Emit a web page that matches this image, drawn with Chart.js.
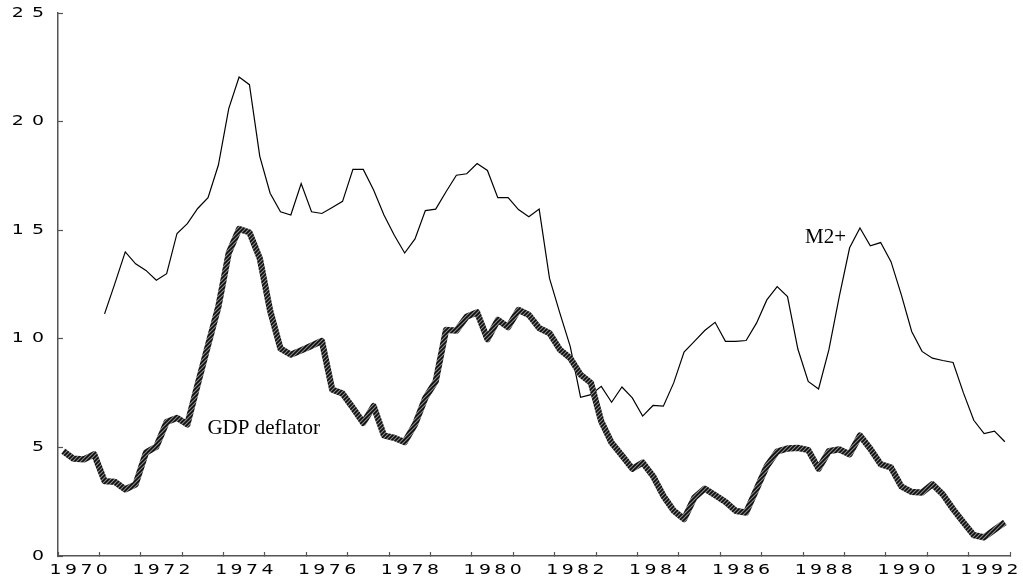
<!DOCTYPE html>
<html>
<head>
<meta charset="utf-8">
<style>
  html, body { margin: 0; padding: 0; background: #ffffff; }
  #wrap { width: 1023px; height: 580px; }
</style>
<script src="https://cdn.jsdelivr.net/npm/chart.js@4.4.1/dist/chart.umd.min.js"></script>
</head>
<body>
<div id="wrap"><canvas id="c" width="1023" height="580"></canvas></div>
<script>
// ---- data (quarterly, 1970Q1 .. 1992Q4) ----
const years = [1970,1971,1972,1973,1974,1975,1976,1977,1978,1979,1980,1981,
               1982,1983,1984,1985,1986,1987,1988,1989,1990,1991,1992];
const quarterNames = ['Q1','Q2','Q3','Q4'];

const gdpDeflator = [
  4.83, 4.48, 4.45, 4.68,   3.45, 3.41, 3.07, 3.30,   4.76, 5.03, 6.17, 6.36,
  6.06, 7.90, 9.70, 11.48,  13.95, 15.06, 14.90, 13.70, 11.30, 9.55, 9.27, 9.47,
  9.68, 9.90, 7.66, 7.48,   6.82, 6.13, 6.90, 5.55,   5.44, 5.24, 6.06, 7.28,
  8.04, 10.41, 10.38, 11.02, 11.22, 9.98, 10.87, 10.54, 11.33, 11.10, 10.49, 10.26,
  9.50, 9.11, 8.35, 7.97,   6.20, 5.21, 4.63, 4.02,   4.30, 3.68, 2.77, 2.08,
  1.70, 2.69, 3.10, 2.80,   2.49, 2.08, 2.00, 3.07,   4.14, 4.81, 4.95, 4.98,
  4.88, 4.02, 4.83, 4.91,   4.68, 5.55, 4.94, 4.22,   4.07, 3.20, 2.95, 2.92,
  3.30, 2.84, 2.16, 1.55,   0.96, 0.86, 1.21, 1.55
];

const m2plus = [
  null, null, null, null,   11.15, 12.55, 14.00, 13.45, 13.15, 12.70, 13.00, 14.85,
  15.30, 16.00, 16.50, 18.00, 20.60, 22.05, 21.70, 18.40, 16.70, 15.85, 15.70, 17.15,
  15.85, 15.77, 16.05, 16.33, 17.80, 17.80, 16.85, 15.70, 14.77, 13.95, 14.60, 15.90,
  15.97, 16.77, 17.53, 17.60, 18.07, 17.75, 16.50, 16.50, 15.95, 15.62, 15.97, 12.78,
  11.18, 9.65, 7.31, 7.43,  7.81, 7.08, 7.78, 7.28,   6.44, 6.93, 6.90, 7.97,
  9.39, 9.88, 10.38, 10.76, 9.88, 9.88, 9.92, 10.72,  11.79, 12.40, 11.94, 9.53,
  8.04, 7.69, 9.50, 11.94,  14.19, 15.10, 14.28, 14.43, 13.55, 12.02, 10.34, 9.42,
  9.11, 9.00, 8.91, 7.51,   6.25, 5.64, 5.75, 5.26
];

const yTicks = { min: 0, max: 25, step: 5 };
const seriesNames = ['GDP deflator', 'M2+'];

// quarterly category labels
const quarterLabels = [];
years.forEach(y => quarterNames.forEach(q => quarterLabels.push(y + ' ' + q)));

// ---- hatched stroke for the GDP deflator line ----
function makeHatch() {
  const c = document.createElement('canvas');
  c.width = 4; c.height = 4;
  const g = c.getContext('2d');
  g.fillStyle = '#8c8c8c';
  g.fillRect(0, 0, 4, 4);
  g.strokeStyle = '#0d0d0d';
  g.lineWidth = 1.7;
  g.beginPath();
  g.moveTo(0, 4); g.lineTo(4, 0);
  g.moveTo(-1, 1); g.lineTo(1, -1);
  g.moveTo(3, 5); g.lineTo(5, 3);
  g.stroke();
  return document.getElementById('c').getContext('2d').createPattern(c, 'repeat');
}

// ---- plugins ----
const AXIS_COLOR = '#555555';
const TICK_STRETCH = 1.35;   // the original tick font is horizontally wide
const labelStyle = {
  id: 'labelStyle',
  beforeDraw(chart) {
    [['x', 2.5], ['y', 6]].forEach(([id, sp]) => {
      const s = chart.scales[id];
      if (!s || s.__styled) return;
      const orig = s.drawLabels;
      s.drawLabels = function (area) {
        const c = this.ctx;
        const baseRotate = c.rotate;
        c.letterSpacing = sp + 'px';
        c.rotate = function (a) { baseRotate.call(this, a); this.scale(TICK_STRETCH, 1); };
        try { orig.call(this, area); }
        finally { delete c.rotate; c.letterSpacing = '0px'; }
      };
      s.__styled = true;
    });
  }
};

const seriesLabels = {
  id: 'seriesLabels',
  afterDatasetsDraw(chart, args, opts) {
    const ctx = chart.ctx;
    const xs = chart.scales.x, ys = chart.scales.y;
    ctx.save();
    ctx.letterSpacing = '0px';
    ctx.font = opts.font;
    ctx.fillStyle = '#000';
    ctx.textAlign = 'left';
    ctx.textBaseline = 'alphabetic';
    opts.items.forEach(it => {
      const idx = (it.year - years[0]) * 4 - 0.5;
      ctx.fillText(it.text, xs.getPixelForValue(idx), ys.getPixelForValue(it.value));
    });
    ctx.restore();
  }
};

const tickFont = { family: '"DejaVu Sans", "Liberation Sans", sans-serif', size: 14 };

new Chart(document.getElementById('c'), {
  type: 'line',
  data: {
    labels: quarterLabels,
    datasets: [
      {
        label: seriesNames[0],
        data: gdpDeflator,
        borderColor: makeHatch(),
        borderWidth: 6.3,
        borderJoinStyle: 'round',
        borderCapStyle: 'butt',
        pointRadius: 0,
        tension: 0,
        fill: false
      },
      {
        label: seriesNames[1],
        data: m2plus,
        borderColor: '#000000',
        borderWidth: 1.2,
        pointRadius: 0,
        tension: 0,
        fill: false,
        spanGaps: false
      }
    ]
  },
  options: {
    responsive: false,
    animation: false,
    devicePixelRatio: 1,
    layout: { padding: { top: 13, right: 13, left: 0, bottom: 0 } },
    events: [],
    plugins: {
      legend: { display: false },
      tooltip: { enabled: false },
      seriesLabels: {
        font: '21px "Liberation Serif", "Times New Roman", serif',
        items: [
          { text: seriesNames[0], year: 1973.61, value: 5.6 },
          { text: seriesNames[1], year: 1988.05, value: 14.4 }
        ]
      }
    },
    scales: {
      x: {
        type: 'category',
        offset: true,
        grid: {
          offset: true,
          drawOnChartArea: false,
          drawTicks: true,
          tickLength: -4,
          tickWidth: 1.2,
          tickColor: (ctx) => (ctx.index === undefined || ctx.index % 4 === 0) ? AXIS_COLOR : 'rgba(0,0,0,0)'
        },
        border: { color: AXIS_COLOR, width: 1.5 },
        ticks: {
          autoSkip: false,
          maxRotation: 0,
          minRotation: 0,
          color: '#000',
          font: tickFont,
          padding: 10,
          labelOffset: 6.9,
          callback: (value, index) => (index % 8 === 1) ? String(years[Math.floor(index / 4)]) : ''
        },
        afterFit: (s) => { s.height = 24; s.paddingLeft = 0; s.paddingRight = 0; }
      },
      y: {
        min: yTicks.min,
        max: yTicks.max,
        grid: {
          drawOnChartArea: false,
          drawTicks: true,
          tickLength: -5,
          tickWidth: 1.2,
          tickColor: AXIS_COLOR
        },
        border: { color: AXIS_COLOR, width: 1.5 },
        ticks: {
          stepSize: yTicks.step,
          color: '#000',
          font: tickFont,
          padding: 11
        },
        afterFit: (s) => { s.width = 58; s.paddingTop = 0; s.paddingBottom = 0; }
      }
    }
  },
  plugins: [labelStyle, seriesLabels]
});
</script>
</body>
</html>
